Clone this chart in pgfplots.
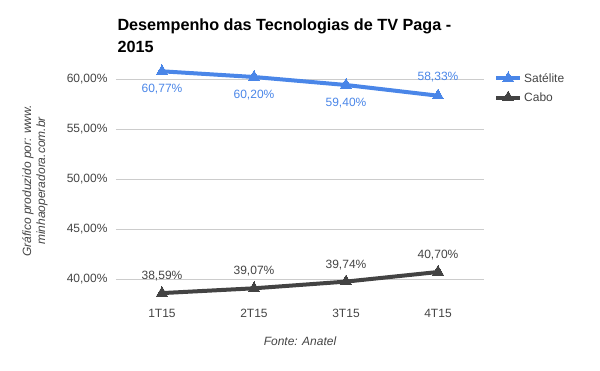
\documentclass[border=0pt]{standalone}
\usepackage{pgfplots}
\pgfplotsset{compat=1.18}
\usepackage{pgfplotstable}
\usepackage{fontspec}
\setmainfont{Liberation Sans}
\definecolor{sat}{HTML}{4A86E8}
\definecolor{cabo}{HTML}{434343}
\definecolor{tk}{HTML}{444444}
\definecolor{gr}{HTML}{CCCCCC}

\pgfplotstableread{
x y lab off
0 60.77 60,77 -18
1 60.20 60,20 -18
2 59.40 59,40 -18
3 58.33 58,33 19
}\sat
\pgfplotstableread{
x y lab off
0 38.59 38,59 17
1 39.07 39,07 17
2 39.74 39,74 17
3 40.70 40,70 17
}\cabo

\begin{document}
\begin{tikzpicture}
\begin{axis}[
  name=ax,
  scale only axis,
  width=368bp, height=240bp,
  xmin=-0.5, xmax=3.5, ymin=38, ymax=62,
  axis line style={draw=none},
  tick style={draw=none},
  xtick={0,1,2,3},
  xticklabels={1T15,2T15,3T15,4T15},
  ytick={40,45,50,55,60},
  yticklabels={40{,}00\%,45{,}00\%,50{,}00\%,55{,}00\%,60{,}00\%},
  ymajorgrids,
  grid style={gr, line width=0.8bp},
  ticklabel style={font=\fontsize{12bp}{14bp}\selectfont, text=tk},
  yticklabel style={xshift=-5bp},
  xticklabel style={yshift=-7bp},
  legend style={at={(1,1)}, anchor=north west, xshift=10bp, yshift=-12bp, draw=none, fill=none,
     font=\fontsize{12bp}{14bp}\selectfont, text=tk, row sep=5bp, inner sep=0pt},
  legend cell align=left,
  legend image code/.code={\draw[#1, mark repeat=2, mark phase=2] plot coordinates {(0bp,0bp)(12bp,0bp)(24bp,0bp)};},
  nodes near coords={\pgfplotspointmeta\%},
  point meta=explicit symbolic,
  visualization depends on={\thisrow{off} \as \off},
  every node near coord/.append style={anchor=center, yshift=\off bp, font=\fontsize{12bp}{14bp}\selectfont},
  clip=false,
]
\addplot[sat, line width=4bp, mark=triangle*, mark size=6.5bp, mark options={fill=sat, draw=sat, line width=0pt},
  every node near coord/.append style={text=sat}] table[x=x, y=y, meta=lab] {\sat};
\addlegendentry{Satélite}
\addplot[cabo, line width=4bp, mark=triangle*, mark size=6.5bp, mark options={fill=cabo, draw=cabo, line width=0pt},
  every node near coord/.append style={text=tk}] table[x=x, y=y, meta=lab] {\cabo};
\addlegendentry{Cabo}
\end{axis}
\node[rotate=90, anchor=center, align=center, font=\itshape\fontsize{12bp}{14bp}\selectfont, text=tk]
  at ([xshift=-81bp, yshift=-2bp]ax.west) {Gráfico produzido por: www.\\minhaoperadora.com.br};
\node[anchor=base west, font=\bfseries\fontsize{16.2bp}{20bp}\selectfont, text=black]
  at ([xshift=-2bp, yshift=28bp]ax.north west) {Desempenho das Tecnologias de TV Paga -};
\node[anchor=base west, font=\bfseries\fontsize{16.2bp}{20bp}\selectfont, text=black]
  at ([xshift=-2bp, yshift=7bp]ax.north west) {2015};
\node[anchor=base, font=\itshape\fontsize{12bp}{14bp}\selectfont, text=tk]
  at ([yshift=-46bp]ax.south) {Fonte: Anatel};
\useasboundingbox ([xshift=-116bp, yshift=-72bp]ax.south west) rectangle ([xshift=116bp, yshift=59bp]ax.north east);
\end{tikzpicture}
\end{document}
